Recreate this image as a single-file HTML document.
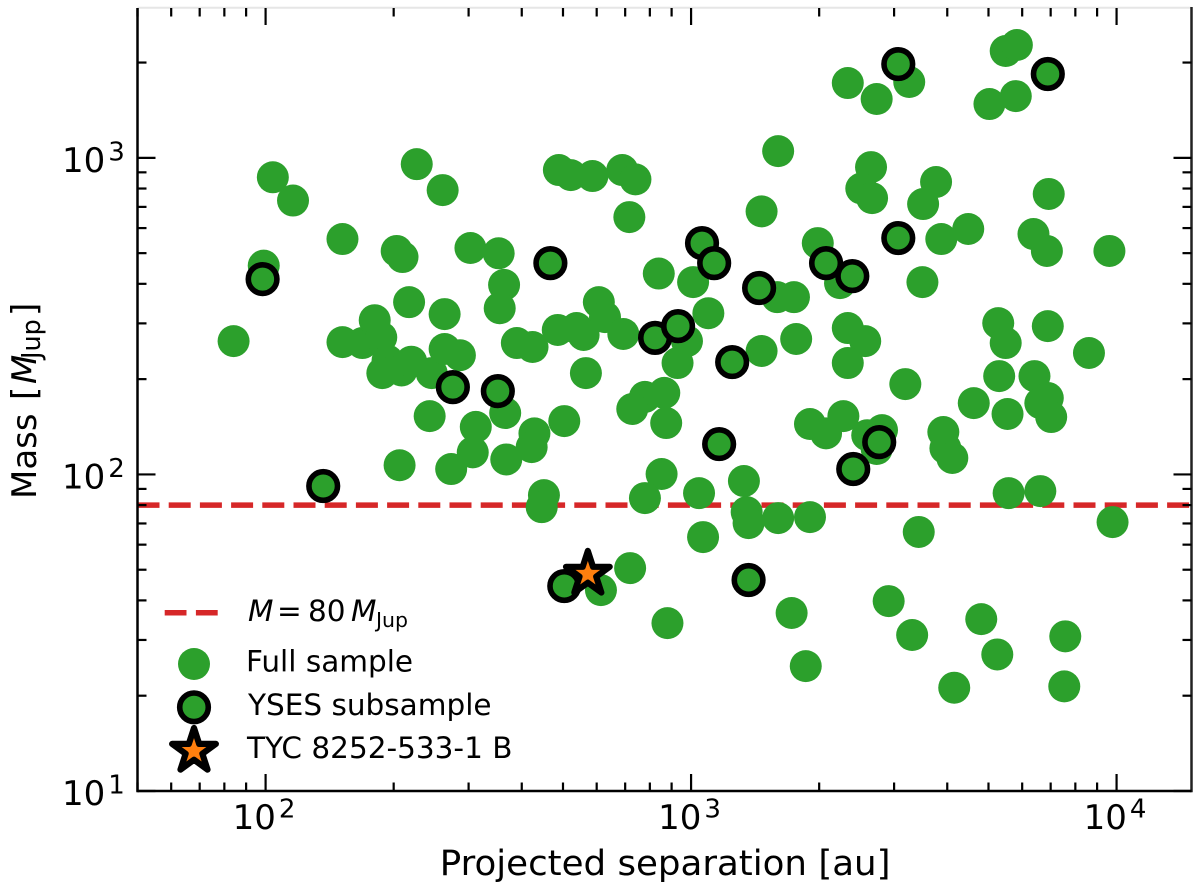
<!DOCTYPE html>
<html lang="en">
<head>
<meta charset="utf-8">
<title>Mass vs projected separation</title>
<style>
html,body{margin:0;padding:0;background:#fff;}
svg{display:block;font-family:"DejaVu Sans","Liberation Sans",sans-serif;fill:#000;}
</style>
</head>
<body>
<svg id="chart" xmlns="http://www.w3.org/2000/svg" width="1200" height="894" viewBox="0 0 1200 894">
  <rect x="0" y="0" width="1200" height="894" fill="#fff"/>
  <g id="marks"></g>
  <g id="axes"></g>
  <g id="ticklabels"></g>

  <text x="439.8" y="875" font-size="34.5" textLength="450.7" lengthAdjust="spacingAndGlyphs">Projected separation [au]</text>
  <text transform="translate(36,496) rotate(-90)" font-size="34"><tspan x="-3" y="0">Mass</tspan><tspan x="96" y="0">[</tspan><tspan x="112" y="0" font-style="italic">M</tspan><tspan x="137" y="4" font-size="25.5">Jup</tspan><tspan x="180" y="0">]</tspan></text>

  <g>
    <g>
      <line x1="164.7" y1="612.7" x2="218" y2="612.7" stroke="#d62728" stroke-width="5.5" stroke-dasharray="21.8 9.4"/>
      <text font-size="29.5"><tspan x="248" y="621" font-style="italic">M</tspan><tspan x="277" y="621">=</tspan><tspan x="308" y="621">80</tspan><tspan x="351" y="621" font-style="italic">M</tspan><tspan x="376" y="627" font-size="20.5">Jup</tspan></text>
    </g>
    <g>
      <circle cx="194" cy="664" r="16" fill="#2ca02c"/>
      <text x="246" y="671.7" font-size="29.5">Full sample</text>
    </g>
    <g>
      <circle cx="194" cy="707.3" r="14.3" fill="#2ca02c" stroke="#000" stroke-width="5.6"/>
      <text x="248" y="715" font-size="29.5">YSES subsample</text>
    </g>
    <g>
      <polygon id="legend-star" fill="#ff7f0e" stroke="#000" stroke-width="6.2" stroke-linejoin="round"/>
      <text x="247" y="758" font-size="29.5">TYC 8252-533-1 B</text>
    </g>
  </g>
</svg>
<script>
// Chart data (projected separation in au, mass in Jupiter masses)
const fullSep = [104,116,151.6,99,203.3,209.8,226.6,260.7,303,353,363.5,217.4,263.5,355,84.1,151.6,168.8,180.5,187,193.5,188.1,208.7,220,245.7,263.5,286.2,389.5,424,365.7,243,311.9,306.8,273,367.8,206.5,428.4,422,451,445.6,489,521.6,586.5,689,740,716,1602,1464.5,839.6,1011,607,627.6,486,538,559,693,566,1098,978,929.4,1464.5,1766,1594,1745,2335,2566,2335,3188,779,865,727.4,874,503.5,1903,2076,2280,2594,2810,2730,852.5,779,1044,1331,1351,1365,1602,1903,1067,3428,2335,2730,3256,5488,5830,5026,5796,2648,2512,2663,3765,3510,6927,3873,4481,6378,6858,9620,1985,2239,3497,5271,5488,6892,8612,5298,6413,6892,6619,7020,4617,5543,3916,3960,4111,5576,6619,9785,614,719,880,1723,1860,2913,3308,4808,5244,4154,7576,7535];
const fullMass = [868,733,554,456.6,508,486,955,791,519,499.5,397,350,321,335,263.7,261.8,260,307,271,229,209,213,227,209,249,238,260,252.6,156.3,152.8,141.3,117.4,104,111.5,106.9,134.8,122,86,78.8,915,882,876,915,855,650,1050,677.5,431,405,350,314,286,290,275.7,277.7,209,323,263.7,224.8,245.4,267.8,363,363,290,263.7,224.8,192.9,175.7,180.9,161,145.3,147.4,144.3,134.8,152.8,133,138,120.3,100.3,84.2,87.3,95.3,76,70.2,72.8,73.3,63.4,65.8,1723,1534,1736,2175,2272,1479,1567,935,800,746,839,714.6,769,554,596,574.5,508,508,538,402,405,300.6,260,294,241.9,204.5,204.5,174.4,168,151.8,168,155.2,136.1,121,112.7,87.3,88.6,70.7,43.1,50.6,33.9,36.5,24.8,39.8,31.1,34.9,27,21.2,30.8,21.4];
const ysesSep = [98.4,467,1061,1133,1445,823,932,1249,275.5,351.4,136.6,1164,2768,2405,3069,6892,3069,2076,2393,1365,503.5];
const ysesMass = [414,465,538,465,388,270,294,226.4,188.7,183.3,91.9,124.7,126.5,104,1978,1840,558,465,423,46.4,44.4];
const tycSep = [572];
const tycMass = [48.5];
const massLimit = [80];
const xDomain = [50,15000];
const yDomain = [10,3000];
const xMajorTicks = [100,1000,10000];
const xMinorTicks = [50,60,70,80,90,200,300,400,500,600,700,800,900,2000,3000,4000,5000,6000,7000,8000,9000];
const yMajorTicks = [10,100,1000];
const yMinorTicks = [20,30,40,50,60,70,80,90,200,300,400,500,600,700,800,900,2000];
const xTickLabels = ['2','3','4'];
const yTickLabels = ['1','2','3'];

const NS = 'http://www.w3.org/2000/svg';
const plotLeft = 137.5, plotRight = 1191.5, plotTop = 6.8, plotBottom = 791;
const xScale = v => plotLeft + (Math.log10(v) - Math.log10(xDomain[0])) / (Math.log10(xDomain[1]) - Math.log10(xDomain[0])) * (plotRight - plotLeft);
const yScale = v => plotBottom - (Math.log10(v) - Math.log10(yDomain[0])) / (Math.log10(yDomain[1]) - Math.log10(yDomain[0])) * (plotBottom - plotTop);

function make(tag, attrs, parent) {
  const n = document.createElementNS(NS, tag);
  for (const k in attrs) n.setAttribute(k, attrs[k]);
  parent.appendChild(n);
  return n;
}
function starPoints(cx, cy, R) {
  const pts = [];
  for (let i = 0; i < 10; i++) {
    const r = i % 2 ? R * 0.381966 : R;
    const a = -Math.PI / 2 + i * Math.PI / 5;
    pts.push((cx + r * Math.cos(a)).toFixed(2) + ',' + (cy + r * Math.sin(a)).toFixed(2));
  }
  return pts.join(' ');
}

const marks = document.getElementById('marks');
const axes = document.getElementById('axes');
const labels = document.getElementById('ticklabels');

// threshold line
const limitLine = make('line', {x1: plotLeft, x2: plotRight, y1: yScale(massLimit[0]), y2: yScale(massLimit[0]), stroke: '#d62728', 'stroke-width': 5.5, 'stroke-dasharray': '22 9.2'}, marks);



// full sample
fullSep.forEach((s, i) => {
  const c = make('circle', {cx: xScale(s), cy: yScale(fullMass[i]), r: 16, fill: '#2ca02c'}, marks);
  
  
});

// YSES subsample
ysesSep.forEach((s, i) => {
  const c = make('circle', {cx: xScale(s), cy: yScale(ysesMass[i]), r: 14.3, fill: '#2ca02c', stroke: '#000', 'stroke-width': 5.6}, marks);
  
  
});

// TYC companion
tycSep.forEach((s, i) => {
  const st = make('polygon', {points: starPoints(xScale(s), yScale(tycMass[i]), 23), fill: '#ff7f0e', stroke: '#000', 'stroke-width': 6.2, 'stroke-linejoin': 'round'}, marks);
  
  
});
document.getElementById('legend-star').setAttribute('points', starPoints(194, 751, 23));

// spines
const spineTop = make('line', {x1: plotLeft, x2: plotRight, y1: 7.8, y2: 7.8, stroke: '#e6e6e6', 'stroke-width': 2}, axes);


const spineRight = make('line', {x1: plotRight, x2: plotRight, y1: 7, y2: plotBottom + 1.2, stroke: '#222', 'stroke-width': 2.5}, axes);


const spineLeft = make('line', {x1: plotLeft, x2: plotLeft, y1: 8, y2: plotBottom + 1.2, stroke: '#000', 'stroke-width': 2.5}, axes);


const spineBottom = make('line', {x1: plotLeft, x2: plotRight, y1: plotBottom, y2: plotBottom, stroke: '#000', 'stroke-width': 2.5}, axes);



// x ticks (bottom and top, pointing inward)
function xTick(v, len, w) {
  const x = xScale(v);
  const b = make('line', {x1: x, x2: x, y1: plotBottom, y2: plotBottom - len, stroke: '#000', 'stroke-width': w}, axes);
  
  
  const t = make('line', {x1: x, x2: x, y1: 8, y2: 8 + len, stroke: '#000', 'stroke-width': w}, axes);
  
  
}
xMajorTicks.forEach(v => xTick(v, 17, 2.2));
xMinorTicks.forEach(v => xTick(v, 8.5, 2.2));

// y ticks (left and right, pointing inward)
function yTick(v, len, w) {
  const y = yScale(v);
  const l = make('line', {x1: plotLeft, x2: plotLeft + len, y1: y, y2: y, stroke: '#000', 'stroke-width': w}, axes);
  
  
  const r = make('line', {x1: plotRight, x2: plotRight - len, y1: y, y2: y, stroke: '#000', 'stroke-width': w}, axes);
  
  
}
yMajorTicks.forEach(v => yTick(v, 18, 2.2));
yMinorTicks.forEach(v => yTick(v, 9, 2.2));

// tick labels
function powerLabel(x, y, exp, parent) {
  const t = make('text', {x: x, y: y, 'font-size': 34}, parent);
  t.textContent = '10';
  const s = make('tspan', {dy: -11.5, dx: 3, 'font-size': 26}, t);
  s.textContent = exp;
  return t;
}
xMajorTicks.forEach((v, i) => {
  const t = powerLabel(xScale(v) - 33, 829, xTickLabels[i], labels);
  
  
});
yMajorTicks.forEach((v, i) => {
  const t = powerLabel(62, yScale(v) + 14, yTickLabels[i], labels);
  
  
});
</script>
</body>
</html>
